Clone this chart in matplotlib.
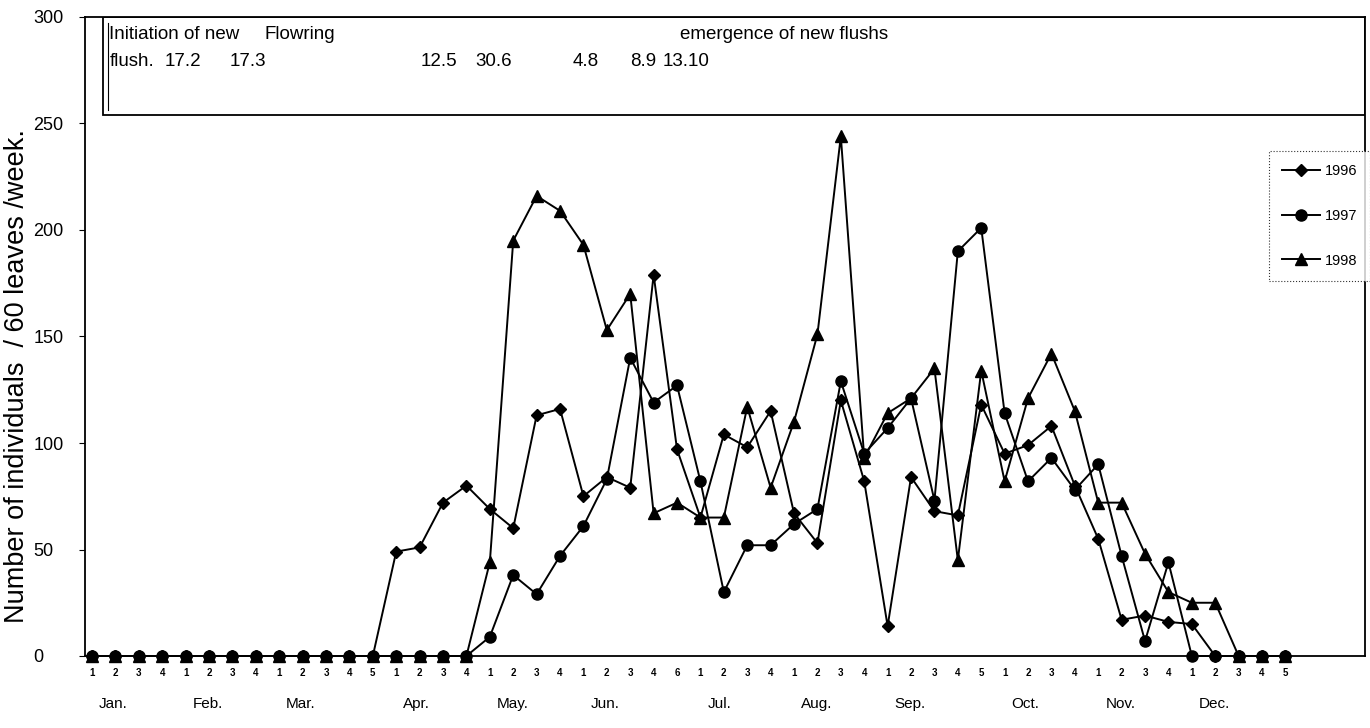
import numpy as np
import matplotlib
matplotlib.use("Agg")
from matplotlib import pyplot as plt
from matplotlib.patches import Rectangle

plt.rcParams['font.family'] = ['Liberation Sans', 'DejaVu Sans']

# week number printed under each point (52 weeks)
week_labels = ["1", "2", "3", "4", "1", "2", "3", "4", "1", "2", "3", "4", "5",
               "1", "2", "3", "4", "1", "2", "3", "4", "1", "2", "3", "4", "6",
               "1", "2", "3", "4", "1", "2", "3", "4", "1", "2", "3", "4", "5",
               "1", "2", "3", "4", "1", "2", "3", "4", "1", "2", "3", "4", "5"]
months = ["Jan.", "Feb.", "Mar.", "Apr.", "May.", "Jun.",
          "Jul.", "Aug.", "Sep.", "Oct.", "Nov.", "Dec."]
month_first_week = [0, 4, 8, 13, 17, 21, 26, 30, 34, 39, 43, 47]

y1996 = [0, 0, 0, 0, 0, 0, 0, 0, 0, 0, 0, 0, 0,
         49, 51, 72, 80, 69, 60, 113, 116, 75, 84, 79, 179, 97,
         65, 104, 98, 115, 67, 53, 120, 82, 14, 84, 68, 66, 118,
         95, 99, 108, 80, 55, 17, 19, 16, 15, 0, 0, 0, 0]
y1997 = [0, 0, 0, 0, 0, 0, 0, 0, 0, 0, 0, 0, 0,
         0, 0, 0, 0, 9, 38, 29, 47, 61, 83, 140, 119, 127,
         82, 30, 52, 52, 62, 69, 129, 95, 107, 121, 73, 190, 201,
         114, 82, 93, 78, 90, 47, 7, 44, 0, 0, 0, 0, 0]
y1998 = [0, 0, 0, 0, 0, 0, 0, 0, 0, 0, 0, 0, 0,
         0, 0, 0, 0, 44, 195, 216, 209, 193, 153, 170, 67, 72,
         65, 65, 117, 79, 110, 151, 244, 93, 114, 121, 135, 45, 134,
         82, 121, 142, 115, 72, 72, 48, 30, 25, 25, 0, 0, 0]

row1 = ["Initiation of new", "Flowring", "emergence of new flushs"]
row2 = ["flush.", "17.2", "17.3", "12.5", "30.6", "4.8", "8.9", "13.10"]

weeks = np.arange(len(week_labels))

fig = plt.figure(figsize=(13.7, 7.28), dpi=100)
ax = fig.add_axes([85 / 1370, 72 / 728, 1280 / 1370, 639 / 728])

ax.plot(weeks, y1996, color="black", lw=1.4, marker="D", ms=6.5, label="1996", clip_on=False)
ax.plot(weeks, y1997, color="black", lw=1.4, marker="o", ms=8, label="1997", clip_on=False)
ax.plot(weeks, y1998, color="black", lw=1.4, marker="^", ms=9, label="1998", clip_on=False)

ax.set_xlim(-0.3, 54.4)
ax.set_ylim(0, 300)
ax.set_yticks(np.arange(0, 301, 50))
ax.tick_params(axis="y", labelsize=13, length=4, pad=33)
for lab in ax.get_yticklabels():
    lab.set_horizontalalignment("left")
ax.set_xticks(weeks)
ax.set_xticklabels(week_labels, fontsize=7, fontweight="bold")
ax.tick_params(axis="x", length=0, pad=9)

for m, w in zip(months, month_first_week):
    ax.text(w + 0.3, -0.075, m, transform=ax.get_xaxis_transform(),
            ha="left", va="center", fontsize=11)

fig.text(17 / 1370, 1 - 376 / 728, "Number of individuals  / 60 leaves /week.",
         rotation=90, ha="center", va="center", fontsize=19.5)

for s in ax.spines.values():
    s.set_linewidth(1.3)

# box with phenology notes at the top
ax.add_patch(Rectangle((0.014, 0.847), 0.986, 0.153, transform=ax.transAxes,
                       fill=False, lw=1.3, color="black"))
ax.plot([0.018, 0.018], [0.855, 0.99], transform=ax.transAxes, color="black", lw=0.8)
for txt, x in zip(row1, [0.019, 0.140, 0.465]):
    ax.text(x, 0.972, txt, transform=ax.transAxes, ha="left", va="center", fontsize=13.5)
for txt, x in zip(row2, [0.019, 0.062, 0.113, 0.262, 0.305, 0.381, 0.426, 0.451]):
    ax.text(x, 0.930, txt, transform=ax.transAxes, ha="left", va="center", fontsize=13.5)

leg = ax.legend(loc="upper right", bbox_to_anchor=(1.004, 0.79), fontsize=10.5,
                frameon=True, fancybox=False, edgecolor="black", handlelength=2.6,
                labelspacing=2.1, borderpad=0.9, handletextpad=0.3, borderaxespad=0)
leg.get_frame().set_linewidth(0.8)
leg.get_frame().set_linestyle(":")

fig.savefig("out.png", dpi=100)
